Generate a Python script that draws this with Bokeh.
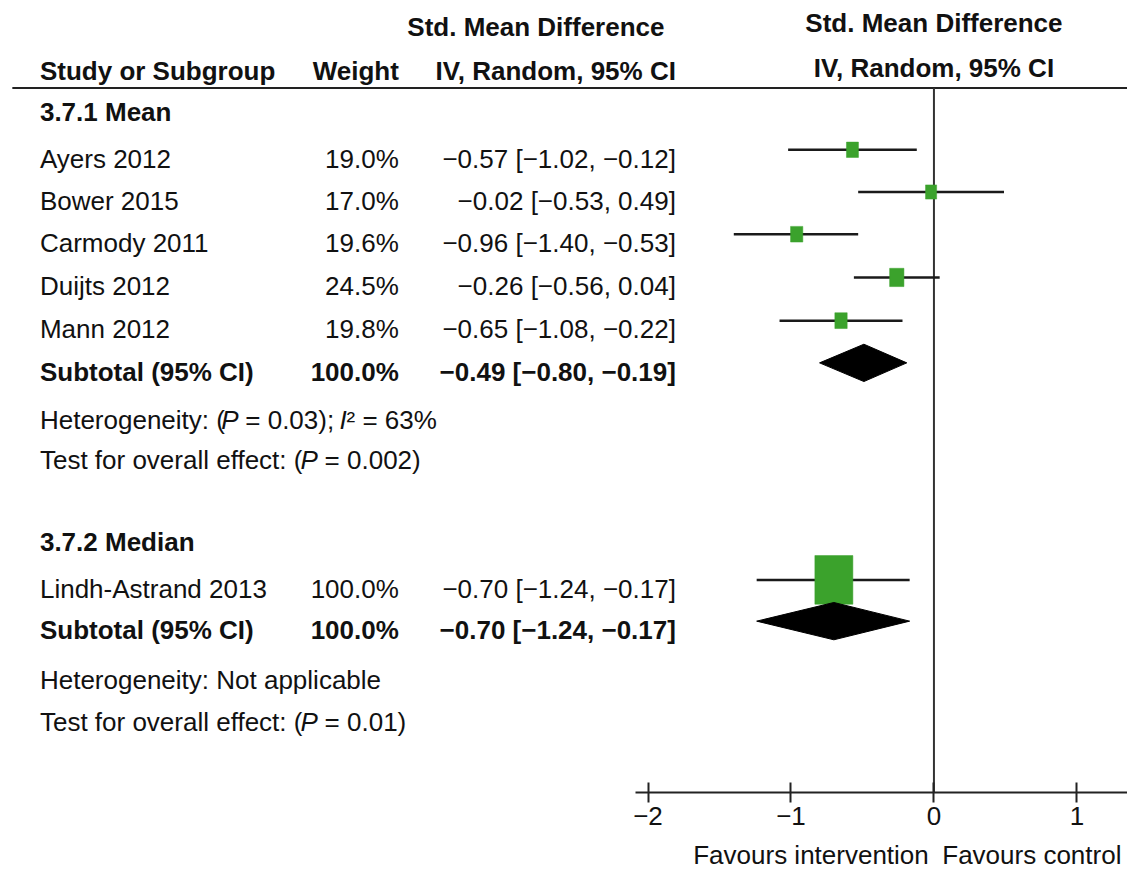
from bokeh.plotting import figure
from bokeh.models import Range1d, LinearAxis, FixedTicker, ColumnDataSource
from bokeh.core.properties import value
from bokeh.embed import file_html
from bokeh.resources import INLINE

# ---------------- data ----------------
studies_g1 = ["Ayers 2012", "Bower 2015", "Carmody 2011", "Duijts 2012", "Mann 2012"]
weights_g1 = [19.0, 17.0, 19.6, 24.5, 19.8]
smd_g1 = [-0.57, -0.02, -0.96, -0.26, -0.65]
lo_g1 = [-1.02, -0.53, -1.40, -0.56, -1.08]
hi_g1 = [-0.12, 0.49, -0.53, 0.04, -0.22]
sub_g1 = [-0.49, -0.80, -0.19]          # estimate, lower, upper
sub_w_g1 = 100.0

studies_g2 = ["Lindh-Astrand 2013"]
weights_g2 = [100.0]
smd_g2 = [-0.70]
lo_g2 = [-1.24]
hi_g2 = [-0.17]
sub_g2 = [-0.70, -1.24, -0.17]
sub_w_g2 = 100.0

group_titles = ["3.7.1 Mean", "3.7.2 Median"]
het_g1 = ["Heterogeneity: (", "P", " = 0.03); ", "I", "\u00b2 = 63%"]
het_g1_italic = [False, True, False, True, False]
test_g1 = ["Test for overall effect: (", "P", " = 0.002)"]
het_g2 = "Heterogeneity: Not applicable"
test_g2 = ["Test for overall effect: (", "P", " = 0.01)"]
test_italic = [False, True, False]

tick_vals = [-2, -1, 0, 1]
null_effect = 0
fav_left = "Favours intervention"
fav_right = "Favours control"

# ---------------- layout (in reference pixels) ----------------
W, H = 1127, 875              # canvas size
REF_W, REF_H = 1143, 891      # layout coordinate space
zero_px, unit_px = 946.7, 145.0
FONT = "Liberation Sans"
FS_PX = 26
FS = f"{FS_PX}px"
FS_REF = FS_PX * REF_W / W
INK = "#111111"
GREEN = "#3ba22c"

x_lo = (0 - zero_px) / unit_px
x_hi = (REF_W - zero_px) / unit_px

col_name, col_weight, col_ci = 40, 404, 685
hdr1_left_y, hdr1_right_y = 27, 23
hdr2_left_y, hdr2_right_y = 72, 69
rule_y = 89
axis_y = 806
title_y = [114, 551]
rows_g1_y = [161, 204, 247, 291, 335]
sub_g1_y = 378
het_g1_y, test_g1_y = 427, 468
rows_g2_y = [599]
sub_g2_y = 641
het_g2_y, test_g2_y = 692, 735
fav_y = 870
mark_off = -9
diamond_half = 19

# Arial-metric advance widths (per em) used to place italic pieces
ADV = {" ": .278, "(": .333, ")": .333, ":": .278, ";": .278, "=": .584, ".": .278,
       "H": .722, "e": .556, "t": .278, "r": .333, "o": .556, "g": .556, "n": .556,
       "i": .222, "y": .5, "T": .611, "s": .5, "f": .278, "v": .5, "a": .556,
       "l": .222, "c": .5, "P": .667, "I": .278, "\u00b2": .333, "%": .889}


def adv(s):
    return sum(ADV.get(ch, .556) for ch in s) * FS_REF * 0.98


def minus(v):
    s = f"{abs(v):.2f}"
    return ("\u2212" + s) if v < 0 else s


def ci_text(e, l, h):
    return f"{minus(e)} [{minus(l)}, {minus(h)}]"


p = figure(width=W, height=H, x_range=Range1d(x_lo, x_hi), y_range=Range1d(REF_H, 0),
           x_axis_type=None, y_axis_type=None, toolbar_location=None,
           output_backend="svg", min_border=0)
p.extra_x_ranges = {"px": Range1d(0, REF_W)}
p.outline_line_color = None
p.xgrid.visible = False
p.ygrid.visible = False
p.background_fill_color = "white"


def txt(x, y, s, align="left", bold=False, italic=False):
    style = "bold" if bold else ("italic" if italic else "normal")
    p.text(x=[x], y=[y], text=[s], x_range_name="px", text_font=value(FONT),
           text_font_size=FS, text_font_style=style, text_align=align,
           text_baseline="middle", text_color=INK)


def pieces(x0, y, parts, italics):
    x = x0
    for s, it in zip(parts, italics):
        lead = len(s) - len(s.lstrip(" "))
        x += adv(" " * lead)
        core = s.strip(" ")
        txt(x, y, core, italic=it)
        x += adv(s[lead:])


# headers
txt(543, hdr1_left_y, "Std. Mean Difference", "center", bold=True)
txt(col_name, hdr2_left_y, "Study or Subgroup", bold=True)
txt(col_weight, hdr2_left_y, "Weight", "right", bold=True)
txt(col_ci, hdr2_left_y, "IV, Random, 95% CI", "right", bold=True)
txt(zero_px, hdr1_right_y, "Std. Mean Difference", "center", bold=True)
txt(zero_px, hdr2_right_y, "IV, Random, 95% CI", "center", bold=True)
p.segment(x0=[12], y0=[rule_y], x1=[REF_W], y1=[rule_y], x_range_name="px",
          line_color="#222222", line_width=2)

# group 1 text
txt(col_name, title_y[0], group_titles[0], bold=True)
for s, w, e, l, h, y in zip(studies_g1, weights_g1, smd_g1, lo_g1, hi_g1, rows_g1_y):
    txt(col_name, y, s)
    txt(col_weight, y, f"{w:.1f}%", "right")
    txt(col_ci, y, ci_text(e, l, h), "right")
txt(col_name, sub_g1_y, "Subtotal (95% CI)", bold=True)
txt(col_weight, sub_g1_y, f"{sub_w_g1:.1f}%", "right", bold=True)
txt(col_ci, sub_g1_y, ci_text(*sub_g1), "right", bold=True)
pieces(col_name, het_g1_y, het_g1, het_g1_italic)
pieces(col_name, test_g1_y, test_g1, test_italic)

# group 2 text
txt(col_name, title_y[1], group_titles[1], bold=True)
for s, w, e, l, h, y in zip(studies_g2, weights_g2, smd_g2, lo_g2, hi_g2, rows_g2_y):
    txt(col_name, y, s)
    txt(col_weight, y, f"{w:.1f}%", "right")
    txt(col_ci, y, ci_text(e, l, h), "right")
txt(col_name, sub_g2_y, "Subtotal (95% CI)", bold=True)
txt(col_weight, sub_g2_y, f"{sub_w_g2:.1f}%", "right", bold=True)
txt(col_ci, sub_g2_y, ci_text(*sub_g2), "right", bold=True)
txt(col_name, het_g2_y, het_g2)
pieces(col_name, test_g2_y, test_g2, test_italic)

# zero line
p.segment(x0=[null_effect], y0=[rule_y], x1=[null_effect], y1=[axis_y],
          line_color="#333333", line_width=2)

# study CIs and boxes
all_smd = smd_g1 + smd_g2
all_lo = lo_g1 + lo_g2
all_hi = hi_g1 + hi_g2
all_w = weights_g1 + weights_g2
all_y = [y + mark_off for y in rows_g1_y + rows_g2_y]
box_w = [38 * (w / 100.0) ** 0.695 for w in all_w]
box_h = [1.28 * b for b in box_w]
src = ColumnDataSource(dict(e=all_smd, lo=all_lo, hi=all_hi, y=all_y, bw=box_w, bh=box_h))
p.segment(x0="lo", y0="y", x1="hi", y1="y", source=src, line_color="#1a1a1a", line_width=2.5)
p.rect(x="e", y="y", width="bw", height="bh", width_units="screen", height_units="screen",
       source=src, fill_color=GREEN, line_color=GREEN, line_width=0.5)

# diamonds
dx, dy = [], []
for (e, l, h), y in [(sub_g1, sub_g1_y + mark_off), (sub_g2, sub_g2_y + mark_off)]:
    dx.append([l, e, h, e])
    dy.append([y, y - diamond_half, y, y + diamond_half])
p.patches(xs=dx, ys=dy, fill_color="black", line_color="black")

# axis
ax = LinearAxis(ticker=FixedTicker(ticks=tick_vals, minor_ticks=[]), fixed_location=axis_y,
                bounds=(-2.09, x_hi))
ax.axis_line_width = 2
ax.axis_line_color = "#222222"
ax.major_tick_line_width = 2
ax.major_tick_line_color = "#222222"
ax.major_tick_in = 10
ax.major_tick_out = 10
ax.minor_tick_line_color = None
ax.major_label_text_font = FONT
ax.major_label_text_font_size = FS
ax.major_label_text_color = INK
ax.major_label_standoff = 5
ax.major_label_overrides = {v: (("\u2212" + str(abs(v))) if v < 0 else str(v)) for v in tick_vals}
p.add_layout(ax, "below")

txt(822, fav_y, fav_left, "center")
txt(1046, fav_y, fav_right, "center")

open("out.html", "w").write(file_html(p, INLINE))
